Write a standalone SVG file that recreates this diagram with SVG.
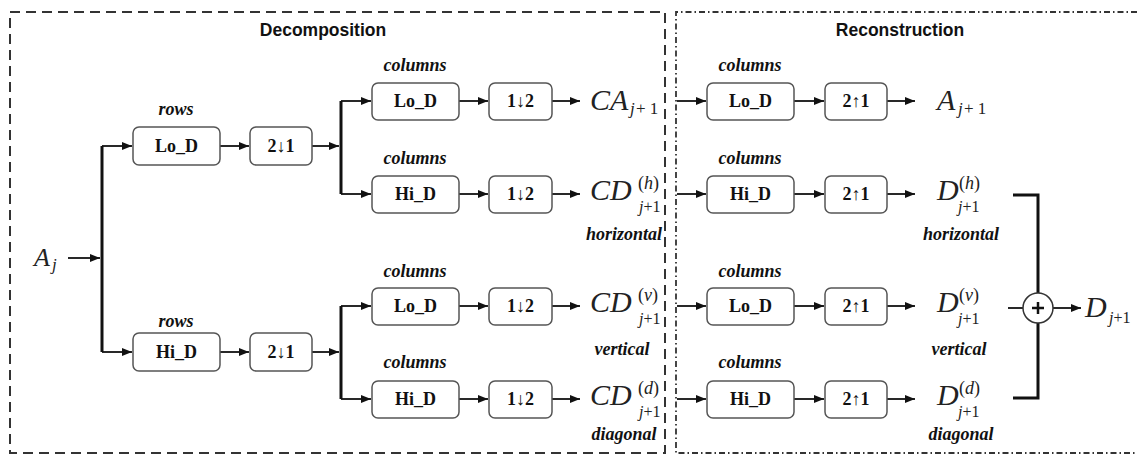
<svg xmlns="http://www.w3.org/2000/svg" width="1137" height="455" viewBox="0 0 1137 455">
<defs>
<marker id="ah" viewBox="0 0 10 8" refX="10" refY="4" markerWidth="10" markerHeight="8" markerUnits="userSpaceOnUse" orient="auto">
<path d="M0,0 L10,4 L0,8 Z" fill="#111"/>
</marker>
</defs>
<style>
.box{fill:#fff;stroke:#555;stroke-width:1.5}
.bl{font-family:'Liberation Serif','Times New Roman',serif;font-weight:bold;font-size:18px;fill:#111;text-anchor:middle}
.lab{font-family:'Liberation Serif','Times New Roman',serif;font-weight:bold;font-style:italic;font-size:18px;fill:#111;text-anchor:middle}
.ttl{font-family:'Liberation Sans',Arial,sans-serif;font-weight:bold;font-size:17.5px;fill:#111;text-anchor:middle}
.m{font-family:'Liberation Serif','Times New Roman',serif;font-style:italic;fill:#222}
.mn{font-family:'Liberation Serif','Times New Roman',serif;font-style:normal;fill:#222}
.c{fill:none;stroke:#111;stroke-width:1.8}
.bus{fill:none;stroke:#111;stroke-width:3}
</style>
<rect width="1137" height="455" fill="#fff"/>
<g id="frames">
<rect x="10" y="12" width="655" height="441" fill="none" stroke="#333" stroke-width="2" stroke-dasharray="10,6"/>
<path d="M1137,12 H676 V453 H1137" fill="none" stroke="#333" stroke-width="1.8" stroke-dasharray="6,3,1.5,3"/>
<text class="ttl" x="323" y="36">Decomposition</text>
<text class="ttl" x="900" y="36">Reconstruction</text>
</g>
<g id="connectors">
<path class="c" d="M68,258 H100" marker-end="url(#ah)"/>
<path class="bus" d="M102,146 V352"/>
<path class="c" d="M102,146 H132" marker-end="url(#ah)"/>
<path class="c" d="M102,352 H132" marker-end="url(#ah)"/>
<path class="c" d="M220,146 H249" marker-end="url(#ah)"/>
<path class="c" d="M220,352 H249" marker-end="url(#ah)"/>
<path class="c" d="M312,146 H339" marker-end="url(#ah)"/>
<path class="c" d="M312,352 H339" marker-end="url(#ah)"/>
<path class="bus" d="M341,101 V194"/>
<path class="bus" d="M341,306 V399"/>
<path class="c" d="M341,101 H371" marker-end="url(#ah)"/>
<path class="c" d="M341,194 H371" marker-end="url(#ah)"/>
<path class="c" d="M341,306 H371" marker-end="url(#ah)"/>
<path class="c" d="M341,399 H371" marker-end="url(#ah)"/>
<path class="c" d="M459,101 H488" marker-end="url(#ah)"/>
<path class="c" d="M459,194 H488" marker-end="url(#ah)"/>
<path class="c" d="M459,306 H488" marker-end="url(#ah)"/>
<path class="c" d="M459,399 H488" marker-end="url(#ah)"/>
<path class="c" d="M552,101 H580" marker-end="url(#ah)"/>
<path class="c" d="M552,194 H580" marker-end="url(#ah)"/>
<path class="c" d="M552,306 H580" marker-end="url(#ah)"/>
<path class="c" d="M552,399 H580" marker-end="url(#ah)"/>
<path class="c" d="M677,101 H706" marker-end="url(#ah)"/>
<path class="c" d="M677,194 H706" marker-end="url(#ah)"/>
<path class="c" d="M677,306 H706" marker-end="url(#ah)"/>
<path class="c" d="M677,399 H706" marker-end="url(#ah)"/>
<path class="c" d="M794,101 H824" marker-end="url(#ah)"/>
<path class="c" d="M794,194 H824" marker-end="url(#ah)"/>
<path class="c" d="M794,306 H824" marker-end="url(#ah)"/>
<path class="c" d="M794,399 H824" marker-end="url(#ah)"/>
<path class="c" d="M887,101 H915" marker-end="url(#ah)"/>
<path class="c" d="M887,194 H915" marker-end="url(#ah)"/>
<path class="c" d="M887,306 H915" marker-end="url(#ah)"/>
<path class="c" d="M887,399 H915" marker-end="url(#ah)"/>
<path class="bus" d="M1013,195 H1038 V293"/>
<path class="bus" d="M1013,398 H1038 V323"/>
<path class="c" d="M1008,308 H1023"/>
<path class="c" d="M1053,308 H1081" marker-end="url(#ah)"/>
</g>
<g id="input">
<text class="m" x="34" y="266" font-size="26">A</text><text class="m" x="52" y="270" font-size="17">j</text>
</g>
<g id="rows-lo">
<text class="lab" x="176" y="115">rows</text>
<rect class="box" x="133" y="127" width="87" height="38" rx="6"/>
<text class="bl" x="176.5" y="152">Lo_D</text>
</g>
<g id="rows-lo-ds">
<rect class="box" x="250" y="127" width="62" height="38" rx="6"/>
<text class="bl" x="281" y="152">2↓1</text>
</g>
<g id="rows-hi">
<text class="lab" x="176" y="327">rows</text>
<rect class="box" x="133" y="333" width="87" height="38" rx="6"/>
<text class="bl" x="176.5" y="358">Hi_D</text>
</g>
<g id="rows-hi-ds">
<rect class="box" x="250" y="333" width="62" height="38" rx="6"/>
<text class="bl" x="281" y="358">2↓1</text>
</g>
<g id="col1">
<text class="lab" x="415" y="71">columns</text>
<rect class="box" x="372" y="83" width="87" height="37" rx="6"/>
<text class="bl" x="415.5" y="107">Lo_D</text>
<rect class="box" x="489" y="83" width="63" height="37" rx="6"/>
<text class="bl" x="520.5" y="107">1↓2</text>
</g>
<g id="col2">
<text class="lab" x="415" y="164">columns</text>
<rect class="box" x="372" y="176" width="87" height="37" rx="6"/>
<text class="bl" x="415.5" y="200">Hi_D</text>
<rect class="box" x="489" y="176" width="63" height="37" rx="6"/>
<text class="bl" x="520.5" y="200">1↓2</text>
</g>
<g id="col3">
<text class="lab" x="415" y="277">columns</text>
<rect class="box" x="372" y="288" width="87" height="37" rx="6"/>
<text class="bl" x="415.5" y="312">Lo_D</text>
<rect class="box" x="489" y="288" width="63" height="37" rx="6"/>
<text class="bl" x="520.5" y="312">1↓2</text>
</g>
<g id="col4">
<text class="lab" x="415" y="368">columns</text>
<rect class="box" x="372" y="381" width="87" height="37" rx="6"/>
<text class="bl" x="415.5" y="405">Hi_D</text>
<rect class="box" x="489" y="381" width="63" height="37" rx="6"/>
<text class="bl" x="520.5" y="405">1↓2</text>
</g>
<g id="out-CA">
<text class="m" x="590" y="110" font-size="30">CA</text><text class="m" x="630" y="114" font-size="17">j</text><text class="mn" x="636" y="114" font-size="17"> + 1</text>
</g>
<g id="out-CDh">
<text class="m" x="590" y="200" font-size="30">CD</text><text class="mn" x="638" y="189" font-size="18">(<tspan class="m">h</tspan>)</text><text class="mn" x="639" y="212" font-size="16"><tspan class="m">j</tspan>+1</text>
<text class="lab" x="624" y="240">horizontal</text>
</g>
<g id="out-CDv">
<text class="m" x="590" y="312" font-size="30">CD</text><text class="mn" x="638" y="301" font-size="18">(<tspan class="m">v</tspan>)</text><text class="mn" x="639" y="324" font-size="16"><tspan class="m">j</tspan>+1</text>
<text class="lab" x="622" y="355">vertical</text>
</g>
<g id="out-CDd">
<text class="m" x="590" y="405" font-size="30">CD</text><text class="mn" x="638" y="394" font-size="18">(<tspan class="m">d</tspan>)</text><text class="mn" x="639" y="417" font-size="16"><tspan class="m">j</tspan>+1</text>
<text class="lab" x="624" y="440">diagonal</text>
</g>
<g id="rcol1">
<text class="lab" x="750" y="71">columns</text>
<rect class="box" x="707" y="83" width="87" height="37" rx="6"/>
<text class="bl" x="750.5" y="107">Lo_D</text>
<rect class="box" x="825" y="83" width="62" height="37" rx="6"/>
<text class="bl" x="856" y="107">2↑1</text>
</g>
<g id="rcol2">
<text class="lab" x="750" y="164">columns</text>
<rect class="box" x="707" y="176" width="87" height="37" rx="6"/>
<text class="bl" x="750.5" y="200">Hi_D</text>
<rect class="box" x="825" y="176" width="62" height="37" rx="6"/>
<text class="bl" x="856" y="200">2↑1</text>
</g>
<g id="rcol3">
<text class="lab" x="750" y="277">columns</text>
<rect class="box" x="707" y="288" width="87" height="37" rx="6"/>
<text class="bl" x="750.5" y="312">Lo_D</text>
<rect class="box" x="825" y="288" width="62" height="37" rx="6"/>
<text class="bl" x="856" y="312">2↑1</text>
</g>
<g id="rcol4">
<text class="lab" x="750" y="368">columns</text>
<rect class="box" x="707" y="381" width="87" height="37" rx="6"/>
<text class="bl" x="750.5" y="405">Hi_D</text>
<rect class="box" x="825" y="381" width="62" height="37" rx="6"/>
<text class="bl" x="856" y="405">2↑1</text>
</g>
<g id="out-A">
<text class="m" x="937" y="110" font-size="30">A</text><text class="m" x="958" y="114" font-size="17">j</text><text class="mn" x="964" y="114" font-size="17"> + 1</text>
</g>
<g id="out-Dh">
<text class="m" x="937" y="200" font-size="30">D</text><text class="mn" x="959" y="189" font-size="18">(<tspan class="m">h</tspan>)</text><text class="mn" x="958" y="212" font-size="16"><tspan class="m">j</tspan>+1</text>
<text class="lab" x="961" y="240">horizontal</text>
</g>
<g id="out-Dv">
<text class="m" x="937" y="312" font-size="30">D</text><text class="mn" x="959" y="301" font-size="18">(<tspan class="m">v</tspan>)</text><text class="mn" x="958" y="324" font-size="16"><tspan class="m">j</tspan>+1</text>
<text class="lab" x="959" y="355">vertical</text>
</g>
<g id="out-Dd">
<text class="m" x="937" y="405" font-size="30">D</text><text class="mn" x="959" y="394" font-size="18">(<tspan class="m">d</tspan>)</text><text class="mn" x="958" y="417" font-size="16"><tspan class="m">j</tspan>+1</text>
<text class="lab" x="961" y="440">diagonal</text>
</g>
<g id="sum">
<circle cx="1038" cy="308" r="15" fill="#fff" stroke="#333" stroke-width="1.5"/>
<path d="M1032,308 H1044 M1038,302 V314" stroke="#111" stroke-width="2.5"/>
</g>
<g id="out-D">
<text class="m" x="1085" y="317" font-size="30">D</text><text class="mn" x="1109" y="323" font-size="16"><tspan class="m">j</tspan>+1</text>
</g>
</svg>
